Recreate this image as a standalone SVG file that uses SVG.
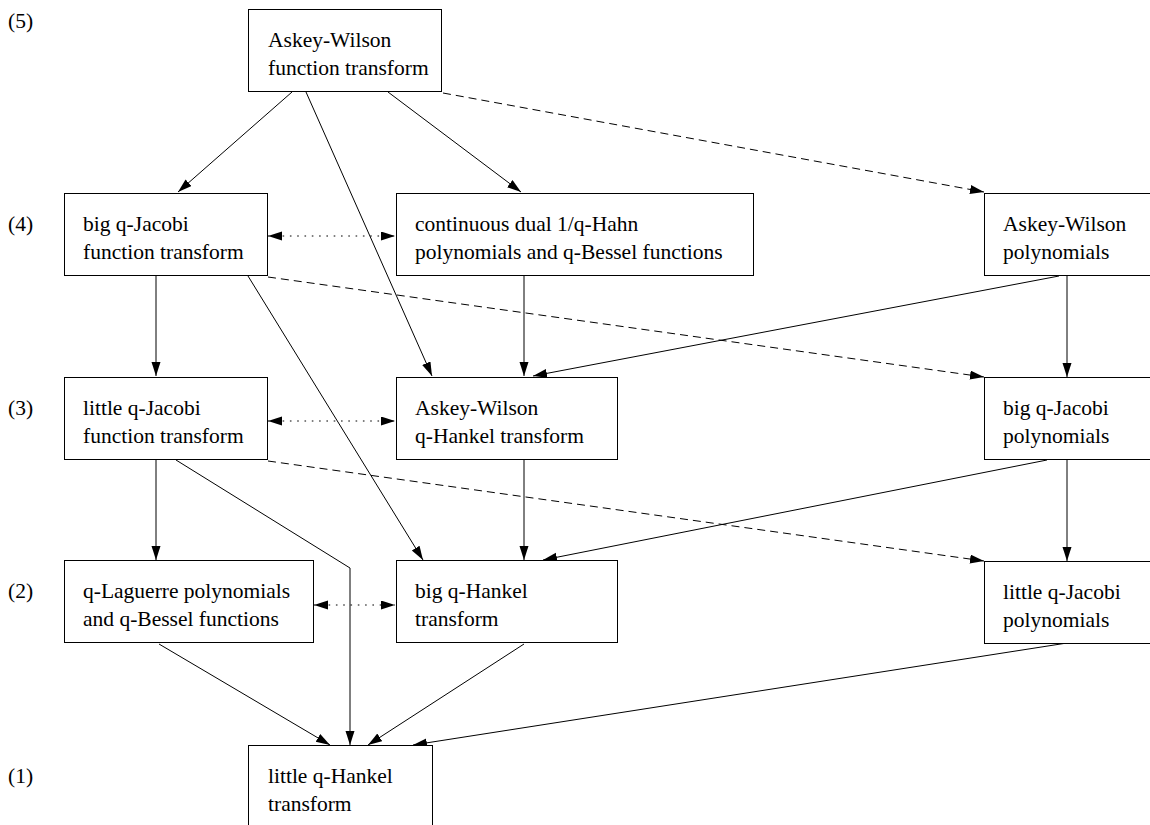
<svg xmlns="http://www.w3.org/2000/svg" width="1150" height="825" viewBox="0 0 1150 825">
<style>
.box{fill:#fff;stroke:#000;stroke-width:1}
text{font-family:"Liberation Serif","Times New Roman",serif;font-size:21.5px;fill:#000}
.c{fill:none;stroke:#000;stroke-width:1}
.dash{stroke-dasharray:8 5}
.dot{stroke-dasharray:1.6 5.7}
</style>
<defs>
<marker id="ah" markerUnits="userSpaceOnUse" markerWidth="15" markerHeight="10" refX="14" refY="4.5" orient="auto-start-reverse">
<path d="M0,0 L14,4.5 L0,9 z" fill="#000"/>
</marker>
</defs>
<rect width="1150" height="825" fill="#fff"/>
<g id="levels">
<text x="8" y="28">(5)</text>
<text x="8" y="231">(4)</text>
<text x="8" y="415">(3)</text>
<text x="8" y="598">(2)</text>
<text x="8" y="783">(1)</text>
</g>
<g id="connectors">
<line class="c" x1="292" y1="92" x2="178" y2="192" marker-end="url(#ah)"/>
<line class="c" x1="306" y1="92" x2="432" y2="376" marker-end="url(#ah)"/>
<line class="c" x1="388" y1="92" x2="521" y2="192" marker-end="url(#ah)"/>
<line class="c dash" x1="443" y1="93" x2="984" y2="192" marker-end="url(#ah)"/>
<line class="c dot" x1="268" y1="236" x2="395" y2="236" marker-start="url(#ah)" marker-end="url(#ah)"/>
<line class="c" x1="156" y1="276" x2="156" y2="376" marker-end="url(#ah)"/>
<line class="c" x1="248" y1="276" x2="423" y2="560" marker-end="url(#ah)"/>
<line class="c dash" x1="268" y1="277" x2="984" y2="377" marker-end="url(#ah)"/>
<line class="c" x1="524" y1="276" x2="524" y2="376" marker-end="url(#ah)"/>
<line class="c" x1="1059" y1="276" x2="533" y2="376" marker-end="url(#ah)"/>
<line class="c" x1="1067" y1="276" x2="1067" y2="377" marker-end="url(#ah)"/>
<line class="c dot" x1="268" y1="421" x2="395" y2="421" marker-start="url(#ah)" marker-end="url(#ah)"/>
<line class="c" x1="156" y1="460" x2="156" y2="560" marker-end="url(#ah)"/>
<polyline class="c" points="176,460 350,568 350,745" marker-end="url(#ah)"/>
<line class="c dash" x1="268" y1="461" x2="984" y2="561" marker-end="url(#ah)"/>
<line class="c" x1="524" y1="460" x2="524" y2="560" marker-end="url(#ah)"/>
<line class="c" x1="1047" y1="460" x2="543" y2="560" marker-end="url(#ah)"/>
<line class="c" x1="1067" y1="460" x2="1067" y2="561" marker-end="url(#ah)"/>
<line class="c dot" x1="314" y1="605" x2="395" y2="605" marker-start="url(#ah)" marker-end="url(#ah)"/>
<line class="c" x1="159" y1="644" x2="330" y2="745" marker-end="url(#ah)"/>
<line class="c" x1="524" y1="644" x2="368" y2="745" marker-end="url(#ah)"/>
<line class="c" x1="1067" y1="643" x2="413" y2="745" marker-end="url(#ah)"/>
</g>
<g id="n5">
<rect class="box" x="248.5" y="9.5" width="193" height="82"/>
<text x="268" y="47">Askey-Wilson</text>
<text x="268" y="75">function transform</text>
</g>
<g id="n4a">
<rect class="box" x="64.5" y="193.5" width="203" height="82"/>
<text x="83" y="231">big q-Jacobi</text>
<text x="83" y="259">function transform</text>
</g>
<g id="n4b">
<rect class="box" x="396.5" y="193.5" width="357" height="82"/>
<text x="415" y="231">continuous dual 1/q-Hahn</text>
<text x="415" y="259">polynomials and q-Bessel functions</text>
</g>
<g id="n4c">
<rect class="box" x="984.5" y="193.5" width="200" height="82"/>
<text x="1003" y="231">Askey-Wilson</text>
<text x="1003" y="259">polynomials</text>
</g>
<g id="n3a">
<rect class="box" x="64.5" y="377.5" width="203" height="82"/>
<text x="83" y="415">little q-Jacobi</text>
<text x="83" y="443">function transform</text>
</g>
<g id="n3b">
<rect class="box" x="396.5" y="377.5" width="221" height="82"/>
<text x="415" y="415">Askey-Wilson</text>
<text x="415" y="443">q-Hankel transform</text>
</g>
<g id="n3c">
<rect class="box" x="984.5" y="377.5" width="200" height="82"/>
<text x="1003" y="415">big q-Jacobi</text>
<text x="1003" y="443">polynomials</text>
</g>
<g id="n2a">
<rect class="box" x="64.5" y="560.5" width="249" height="82"/>
<text x="83" y="598">q-Laguerre polynomials</text>
<text x="83" y="626">and q-Bessel functions</text>
</g>
<g id="n2b">
<rect class="box" x="396.5" y="560.5" width="221" height="82"/>
<text x="415" y="598">big q-Hankel</text>
<text x="415" y="626">transform</text>
</g>
<g id="n2c">
<rect class="box" x="984.5" y="561.5" width="200" height="82"/>
<text x="1003" y="599">little q-Jacobi</text>
<text x="1003" y="627">polynomials</text>
</g>
<g id="n1">
<rect class="box" x="248.5" y="745.5" width="184" height="100"/>
<text x="268" y="783">little q-Hankel</text>
<text x="268" y="811">transform</text>
</g>
</svg>
